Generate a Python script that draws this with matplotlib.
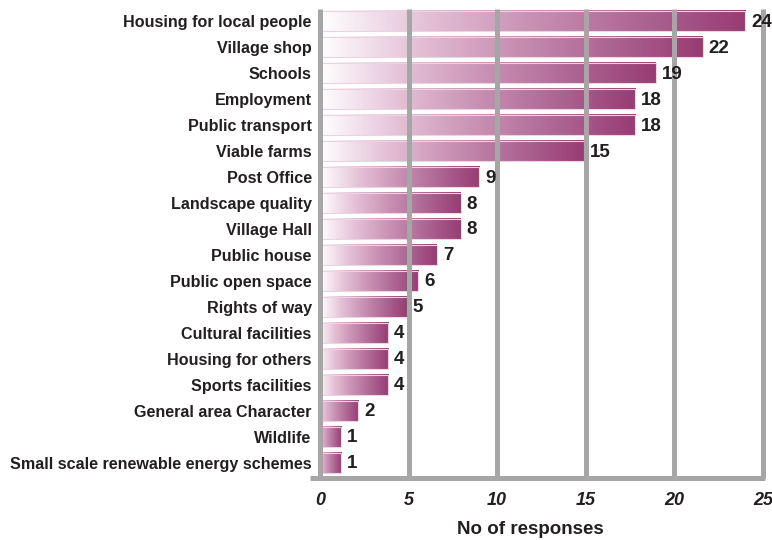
import numpy as np
import matplotlib
matplotlib.use("Agg")
import matplotlib.pyplot as plt
from matplotlib.colors import LinearSegmentedColormap
from matplotlib.lines import Line2D

# Survey responses (label value and drawn bar length)
categories = [
    "Housing for local people", "Village shop", "Schools", "Employment",
    "Public transport", "Viable farms", "Post Office", "Landscape quality",
    "Village Hall", "Public house", "Public open space", "Rights of way",
    "Cultural facilities", "Housing for others", "Sports facilities",
    "General area Character", "Wildlife",
    "Small scale renewable energy schemes",
]
responses = [24, 22, 19, 18, 18, 15, 9, 8, 8, 7, 6, 5, 4, 4, 4, 2, 1, 1]
bar_length = [24.0, 21.6, 18.95, 17.8, 17.8, 14.9, 9.0, 7.95, 7.95, 6.6,
              5.55, 4.9, 3.85, 3.85, 3.85, 2.15, 1.2, 1.2]
x_ticks = [0, 5, 10, 15, 20, 25]

plt.rcParams['font.family'] = ['Liberation Sans', 'DejaVu Sans']
text_col = '#231f20'
grid_col = '#a6a6a6'

fig = plt.figure(figsize=(7.72, 5.40), dpi=100)
ax = fig.add_axes([0.4145, 0.1148, 0.5738, 0.868])

cmap = LinearSegmentedColormap.from_list(
    'purp', ['#ffffff', '#e4c0d6', '#c890b3', '#ad6694', '#983c74'])
grad = np.linspace(0, 1, 256).reshape(1, -1)
h = 0.8
for i, L in enumerate(bar_length):
    t0 = max(0.0, 0.34 - 0.075 * L)  # short bars start a bit pinker
    g = t0 + (1 - t0) * grad
    ax.imshow(g, cmap=cmap, vmin=0, vmax=1, aspect='auto',
              extent=[0, L, i + h / 2, i - h / 2], zorder=1, interpolation='bilinear')
    ax.barh(i, L, height=h, facecolor='none', edgecolor='#ecd3e1', linewidth=0.8, zorder=1.5)
    ax.text(L + 0.33, i + 0.04, str(responses[i]), va='center', ha='left',
            fontsize=13.5, fontweight='bold', color=text_col, zorder=4)

for xt in x_ticks:
    ax.axvline(xt, color=grid_col, linewidth=3.6, zorder=2,
               solid_capstyle='butt', clip_on=False)

ax.add_line(Line2D([-0.022, 1.004], [0, 0], transform=ax.transAxes, color=grid_col,
                   linewidth=3.6, clip_on=False, zorder=3, solid_capstyle='butt'))

ax.set_xlim(0, 25)
ax.set_ylim(17.58, -0.45)
ax.set_yticks(range(len(categories)))
ax.set_yticklabels(categories, fontsize=11.6, fontweight='bold', color=text_col)
ax.set_xticks(x_ticks)
ax.set_xticklabels([str(v) for v in x_ticks], fontsize=13, fontweight='bold',
                   fontstyle='italic', color=text_col)
ax.tick_params(axis='y', length=0, pad=6)
ax.tick_params(axis='x', length=0, pad=10)
for s in ax.spines.values():
    s.set_visible(False)

ax.set_xlabel("No of responses", fontsize=13.5, fontweight='bold', color=text_col)
ax.xaxis.set_label_coords(0.476, -0.092)

fig.savefig("out.png", dpi=100)
